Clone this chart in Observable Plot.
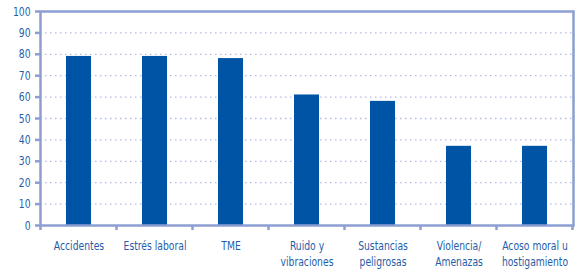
<!DOCTYPE html>
<html>
<head>
<meta charset="utf-8">
<script src="https://cdn.jsdelivr.net/npm/d3@7"></script>
<script src="https://cdn.jsdelivr.net/npm/@observablehq/plot@0.6"></script>
<style>
  html, body { margin: 0; padding: 0; background: #fff; }
  #chart svg { display: block; }
</style>
</head>
<body>
<div id="chart"></div>
<script>
const categories = ["Accidentes", "Estrés laboral", "TME", "Ruido y\nvibraciones", "Sustancias\npeligrosas", "Violencia/\nAmenazas", "Acoso moral u\nhostigamiento"];
const values = [79, 79, 78, 61, 58, 37, 37];
const yTicks = [0, 10, 20, 30, 40, 50, 60, 70, 80, 90, 100];

const data = categories.map((c, i) => ({category: c, value: values[i]}));
const axisColor = "#8c9ed2";
const textColor = "#1f5ea8";
const font = "'Liberation Sans Narrow', 'DejaVu Sans Condensed', sans-serif";

// custom mark: tick marks at band boundaries below the x axis
function boundaryTicks(index, scales, values, dimensions) {
  const x = scales.x;
  const step = x.step();
  const bw = x.bandwidth();
  const off = (step - bw) / 2;
  const y0 = dimensions.height - dimensions.marginBottom;
  const g = d3.create("svg:g");
  const xs = categories.map(c => x(c) - off);
  xs.push(x(categories[categories.length - 1]) + bw + off);
  g.selectAll("line").data(xs).join("line")
    .attr("x1", d => d).attr("x2", d => d)
    .attr("y1", y0).attr("y2", y0 + 5)
    .attr("stroke", axisColor).attr("stroke-width", 2.5);
  return g.node();
}

const chart = Plot.plot({
  width: 575,
  height: 272,
  marginLeft: 40,
  marginRight: 2,
  marginTop: 11,
  marginBottom: 47,
  style: {fontFamily: font, fontSize: "12.5px", color: textColor, background: "#fff"},
  x: {domain: categories, paddingInner: 0.67, paddingOuter: 0.335, label: null},
  y: {domain: [0, 100], label: null},
  marks: [
    Plot.ruleY(yTicks.filter(d => d > 0 && d < 100), {stroke: "#b4bbe8", strokeWidth: 1.3, strokeDasharray: "1.5,3.5"}),
    Plot.barY(data, {x: "category", y: "value", fill: "#0054a6"}),
    Plot.frame({stroke: axisColor, strokeWidth: 2.5}),
    Plot.axisY(yTicks, {tickSize: 5, tickPadding: 5, stroke: axisColor, strokeWidth: 2.5, fill: textColor, fontSize: 12.5, label: null}),
    Plot.axisX({tickSize: 0, tickPadding: 13, fill: textColor, fontSize: 12.5, lineHeight: 1.28, label: null}),
    boundaryTicks
  ]
});
// condense tick label glyphs horizontally (reference uses a condensed face)
chart.querySelectorAll('g[aria-label$="tick label"] text').forEach(t => {
  const tr = t.getAttribute("transform") || "";
  t.setAttribute("transform", tr + " scale(0.82,1)");
});
document.getElementById("chart").appendChild(chart);
</script>
</body>
</html>
